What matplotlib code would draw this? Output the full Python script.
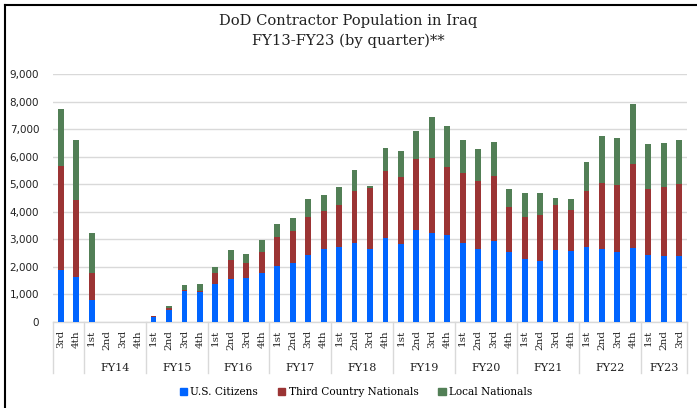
import matplotlib
matplotlib.use("Agg")
import matplotlib.pyplot as plt
from matplotlib.lines import Line2D
import numpy as np

fiscal_years = ["", "FY14", "FY15", "FY16", "FY17", "FY18", "FY19", "FY20", "FY21", "FY22", "FY23"]
quarters = ["3rd", "4th",
            "1st", "2nd", "3rd", "4th",
            "1st", "2nd", "3rd", "4th",
            "1st", "2nd", "3rd", "4th",
            "1st", "2nd", "3rd", "4th",
            "1st", "2nd", "3rd", "4th",
            "1st", "2nd", "3rd", "4th",
            "1st", "2nd", "3rd", "4th",
            "1st", "2nd", "3rd", "4th",
            "1st", "2nd", "3rd", "4th",
            "1st", "2nd", "3rd"]
group_sizes = [2, 4, 4, 4, 4, 4, 4, 4, 4, 4, 3]

us_citizens = [1890, 1620, 810, 0, 0, 0,
               180, 450, 1140, 1080,
               1380, 1550, 1580, 1790,
               2020, 2140, 2420, 2640,
               2730, 2850, 2640, 3060,
               2840, 3340, 3230, 3140,
               2880, 2660, 2930, 2530,
               2270, 2220, 2600, 2580,
               2720, 2660, 2530, 2700,
               2420, 2380, 2380]
third_country = [3780, 2790, 960, 0, 0, 0,
                 30, 60, 30, 60,
                 390, 710, 550, 740,
                 1060, 1150, 1400, 1390,
                 1500, 1890, 2210, 2420,
                 2430, 2560, 2730, 2490,
                 2530, 2470, 2370, 1630,
                 1530, 1670, 1630, 1490,
                 2020, 2390, 2430, 3030,
                 2390, 2510, 2620]
local_nationals = [2060, 2190, 1450, 0, 0, 0,
                   20, 70, 160, 240,
                   230, 340, 340, 440,
                   490, 480, 640, 580,
                   680, 760, 70, 820,
                   950, 1030, 1490, 1500,
                   1180, 1150, 1240, 650,
                   870, 780, 280, 390,
                   1050, 1710, 1710, 2170,
                   1640, 1600, 1590]

series_names = ["U.S. Citizens", "Third Country Nationals", "Local Nationals"]
colors = ["#0064FF", "#9B3434", "#527F56"]

W, H = 697, 408
fig = plt.figure(figsize=(W / 100, H / 100), dpi=100)
ax = fig.add_axes([53 / W, 1 - 322 / H, (687 - 53) / W, (322 - 74) / H])

n = len(quarters)
x = np.arange(n)
bw = 0.38
b1 = np.array(us_citizens)
b2 = np.array(third_country)
b3 = np.array(local_nationals)
ax.bar(x, b1, bw, color=colors[0], zorder=3)
ax.bar(x, b2, bw, bottom=b1, color=colors[1], zorder=3)
ax.bar(x, b3, bw, bottom=b1 + b2, color=colors[2], zorder=3)

ax.set_xlim(-0.5, n - 0.5)
ax.set_ylim(0, 9000)
ax.set_yticks(np.arange(0, 9001, 1000))
ax.set_yticklabels([f"{v:,}" for v in range(0, 9001, 1000)], fontsize=7.5,
                   family="DejaVu Sans", color="#222222")
ax.grid(axis="y", color="#D9D9D9", linewidth=1.0, zorder=0)
for s in ["top", "right", "left"]:
    ax.spines[s].set_visible(False)
ax.spines["bottom"].set_color("#D9D9D9")
ax.spines["bottom"].set_linewidth(1.0)
ax.tick_params(axis="y", length=0, pad=10)
ax.set_xticks([])

serif = "DejaVu Serif"
trans = ax.get_xaxis_transform()
# quarter labels
for i, q in enumerate(quarters):
    ax.text(i, -8 / 248, q, rotation=90, ha="center", va="top", fontsize=7.5,
            family=serif, transform=trans, color="#222222")

# group separators and FY labels
start = 0
bounds = [-0.5]
for g, size in zip(fiscal_years, group_sizes):
    end = start + size
    bounds.append(end - 0.5)
    ax.text((start + end - 1) / 2, -46 / 248, g, ha="center", va="center",
            fontsize=8, family=serif, transform=trans, color="#222222")
    start = end
for b in bounds:
    ax.add_line(Line2D([b, b], [0, -51 / 248], transform=trans, color="#D9D9D9",
                       linewidth=1.0, clip_on=False))

# legend
handles = [plt.Rectangle((0, 0), 1, 1, color=c) for c in colors]
fig.legend(handles, series_names, loc="center", bbox_to_anchor=(356 / W, 1 - 392 / H),
           ncol=3, frameon=False, prop={"family": serif, "size": 7.6},
           handlelength=0.7, handleheight=0.7, handletextpad=0.3, columnspacing=1.9)

# title
fig.text(0.5, 1 - 31 / H, "DoD Contractor Population in Iraq\nFY13-FY23 (by quarter)**",
         ha="center", va="center", fontsize=10.6, family=serif, color="#222222",
         linespacing=1.55)

# border (left and top)
fig.add_artist(Line2D([4.5 / W, 4.5 / W], [0, 1 - 4.5 / H], transform=fig.transFigure,
                      color="black", linewidth=1.5))
fig.add_artist(Line2D([4.5 / W, 1], [1 - 4.5 / H, 1 - 4.5 / H], transform=fig.transFigure,
                      color="black", linewidth=1.5))

fig.savefig("out.png", dpi=100)
